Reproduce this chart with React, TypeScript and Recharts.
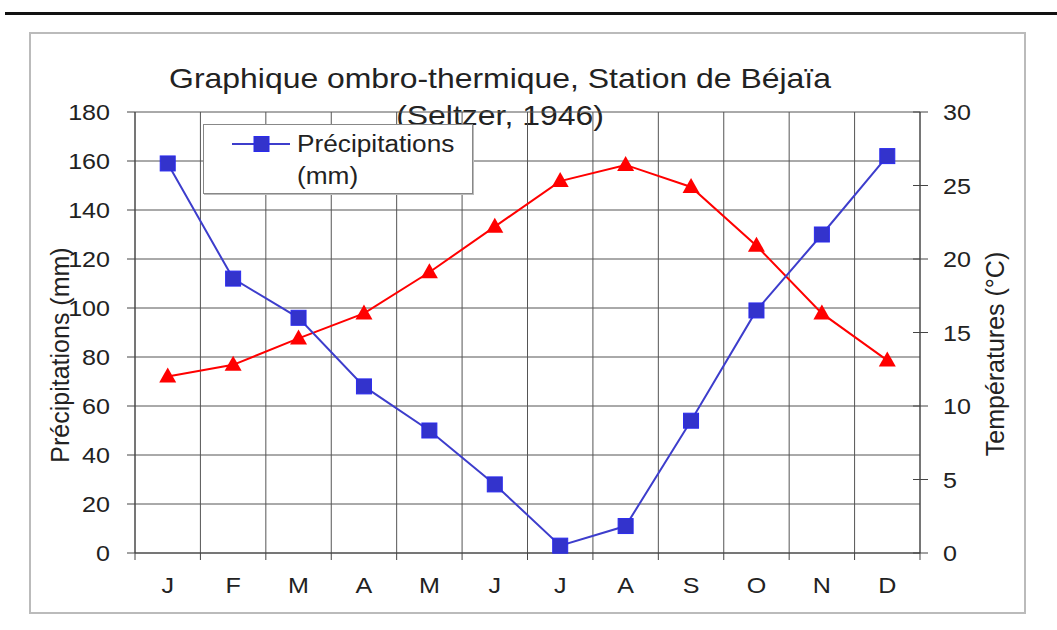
import { LineChart, Line, XAxis, YAxis, CartesianGrid } from "recharts";

const months = ["J", "F", "M", "A", "M", "J", "J", "A", "S", "O", "N", "D"];
const precipitation = [159, 112, 96, 68, 50, 28, 3, 11, 54, 99, 130, 162];
const temperature = [12, 12.8, 14.6, 16.3, 19.1, 22.2, 25.3, 26.4, 24.9, 20.9, 16.3, 13.1];
const precipTicks = [0, 20, 40, 60, 80, 100, 120, 140, 160, 180];
const tempTicks = [0, 5, 10, 15, 20, 25, 30];

const data = months.map((m, i) => ({
  month: m,
  precip: precipitation[i],
  temp: temperature[i],
}));

const W = 1057;
const H = 630;
const FONT = "'Liberation Sans', Arial, sans-serif";
const PLOT_LEFT = 135;
const PLOT_RIGHT = 920;
const BAND = (PLOT_RIGHT - PLOT_LEFT) / months.length;
const SX = 1.14; // the original text is a bit stretched sideways

const StretchText = ({ x, y, anchor, size, children }: any) => (
  <text
    transform={`translate(${x},${y}) scale(${SX},1)`}
    x={0}
    y={0}
    textAnchor={anchor}
    fontSize={size}
    fill="#222"
    fontFamily={FONT}
  >
    {children}
  </text>
);

const MonthTick = (props: any) => {
  const { x, y, payload, index } = props;
  const left = x - BAND / 2;
  return (
    <g>
      <line x1={left} y1={y} x2={left} y2={y + 7} stroke="#444" />
      {index === months.length - 1 && (
        <line x1={x + BAND / 2} y1={y} x2={x + BAND / 2} y2={y + 7} stroke="#444" />
      )}
      <StretchText x={x} y={y + 40} anchor="middle" size={22}>
        {payload.value}
      </StretchText>
    </g>
  );
};

const PrecipTick = (props: any) => {
  const { x, y, payload } = props;
  return (
    <StretchText x={x} y={y + 8} anchor="end" size={22}>
      {payload.value}
    </StretchText>
  );
};

const TempTick = (props: any) => {
  const { x, y, payload } = props;
  return (
    <g>
      <line x1={x - 30} y1={y} x2={x - 15} y2={y} stroke="#444" />
      <StretchText x={x} y={y + 8} anchor="start" size={22}>
        {payload.value}
      </StretchText>
    </g>
  );
};

const SquareDot = (props: any) => {
  const { cx, cy, index } = props;
  if (cx == null || cy == null) return null;
  return <rect key={`sq-${index}`} x={cx - 7.5} y={cy - 7.5} width={15} height={15} fill="#3333cc" stroke="#2a2aee" strokeWidth={1} />;
};

const TriangleDot = (props: any) => {
  const { cx, cy, index } = props;
  if (cx == null || cy == null) return null;
  return (
    <path
      key={`tr-${index}`}
      d={`M${cx},${cy - 9} L${cx + 8.5},${cy + 6} L${cx - 8.5},${cy + 6} Z`}
      fill="#ff0000"
    />
  );
};

const titleStyle: any = {
  position: "absolute",
  left: 0,
  width: 1000,
  textAlign: "center",
  fontSize: 28,
  color: "#222",
  lineHeight: "34px",
  transform: `scaleX(${SX})`,
  transformOrigin: "500px 0",
};

export default function App() {
  return (
    <div style={{ position: "absolute", left: 0, top: 0, width: W, height: H, background: "#fff", fontFamily: FONT }}>
      <div style={{ position: "absolute", left: 5, top: 12, width: W - 5, height: 3, background: "#111" }} />
      <div style={{ position: "absolute", left: 29, top: 32, width: 997, height: 582, border: "2px solid #bbb", boxSizing: "border-box" }} />
      <div style={{ ...titleStyle, top: 62 }}>Graphique ombro-thermique, Station de Béjaïa</div>
      <div style={{ ...titleStyle, top: 99 }}>(Seltzer, 1946)</div>
      <div style={{ position: "absolute", left: 0, top: 0 }}>
        <LineChart width={W} height={H} data={data} margin={{ top: 112, right: 77, left: 75, bottom: 37 }}>
          <CartesianGrid
            stroke="#555"
            verticalCoordinatesGenerator={({ offset }: any) =>
              Array.from({ length: months.length + 1 }, (_, i) => offset.left + (i * offset.width) / months.length)
            }
          />
          <XAxis
            dataKey="month"
            padding={{ left: BAND / 2, right: BAND / 2 }}
            height={40}
            tickSize={0}
            tickMargin={0}
            axisLine={{ stroke: "#444" }}
            tickLine={false}
            tick={<MonthTick />}
            interval={0}
          />
          <YAxis
            yAxisId={0}
            width={60}
            domain={[0, 180]}
            ticks={precipTicks}
            tickSize={8}
            tickMargin={17}
            axisLine={{ stroke: "#444" }}
            tickLine={{ stroke: "#444" }}
            tick={<PrecipTick />}
            interval={0}
          />
          <YAxis
            yAxisId="right"
            orientation="right"
            width={60}
            domain={[0, 30]}
            ticks={tempTicks}
            tickSize={0}
            tickMargin={23}
            axisLine={{ stroke: "#444" }}
            tickLine={false}
            tick={<TempTick />}
            interval={0}
          />
          <Line
            yAxisId="right"
            dataKey="temp"
            stroke="#ff0000"
            strokeWidth={2}
            dot={<TriangleDot />}
            isAnimationActive={false}
          />
          <Line
            yAxisId={0}
            dataKey="precip"
            stroke="#3d3dcc"
            strokeWidth={2}
            dot={<SquareDot />}
            isAnimationActive={false}
          />
        </LineChart>
      </div>
      <div
        style={{
          position: "absolute",
          left: 60,
          top: 355,
          transform: "translate(-50%, -50%) rotate(-90deg)",
          whiteSpace: "nowrap",
          fontSize: 25,
          color: "#222",
        }}
      >
        Précipitations (mm)
      </div>
      <div
        style={{
          position: "absolute",
          left: 995,
          top: 354,
          transform: "translate(-50%, -50%) rotate(-90deg)",
          whiteSpace: "nowrap",
          fontSize: 25,
          color: "#222",
        }}
      >
        Températures (°C)
      </div>
      <div
        style={{
          position: "absolute",
          left: 203,
          top: 124,
          width: 270,
          height: 70,
          background: "#fff",
          border: "1px solid #888",
          boxShadow: "1px 1px 0 #bbb",
          boxSizing: "border-box",
        }}
      >
        <svg style={{ position: "absolute", left: 28, top: 10 }} width={62} height={18}>
          <line x1={0} y1={9} x2={58} y2={9} stroke="#3d3dcc" strokeWidth={2} />
          <rect x={22} y={1.5} width={15} height={15} fill="#3333cc" stroke="#2a2aee" />
        </svg>
        <div
          style={{
            position: "absolute",
            left: 93,
            top: 3,
            fontSize: 23,
            lineHeight: "32px",
            color: "#222",
            transform: `scaleX(${SX})`,
            transformOrigin: "0 0",
          }}
        >
          Précipitations
          <br />
          (mm)
        </div>
      </div>
    </div>
  );
}
